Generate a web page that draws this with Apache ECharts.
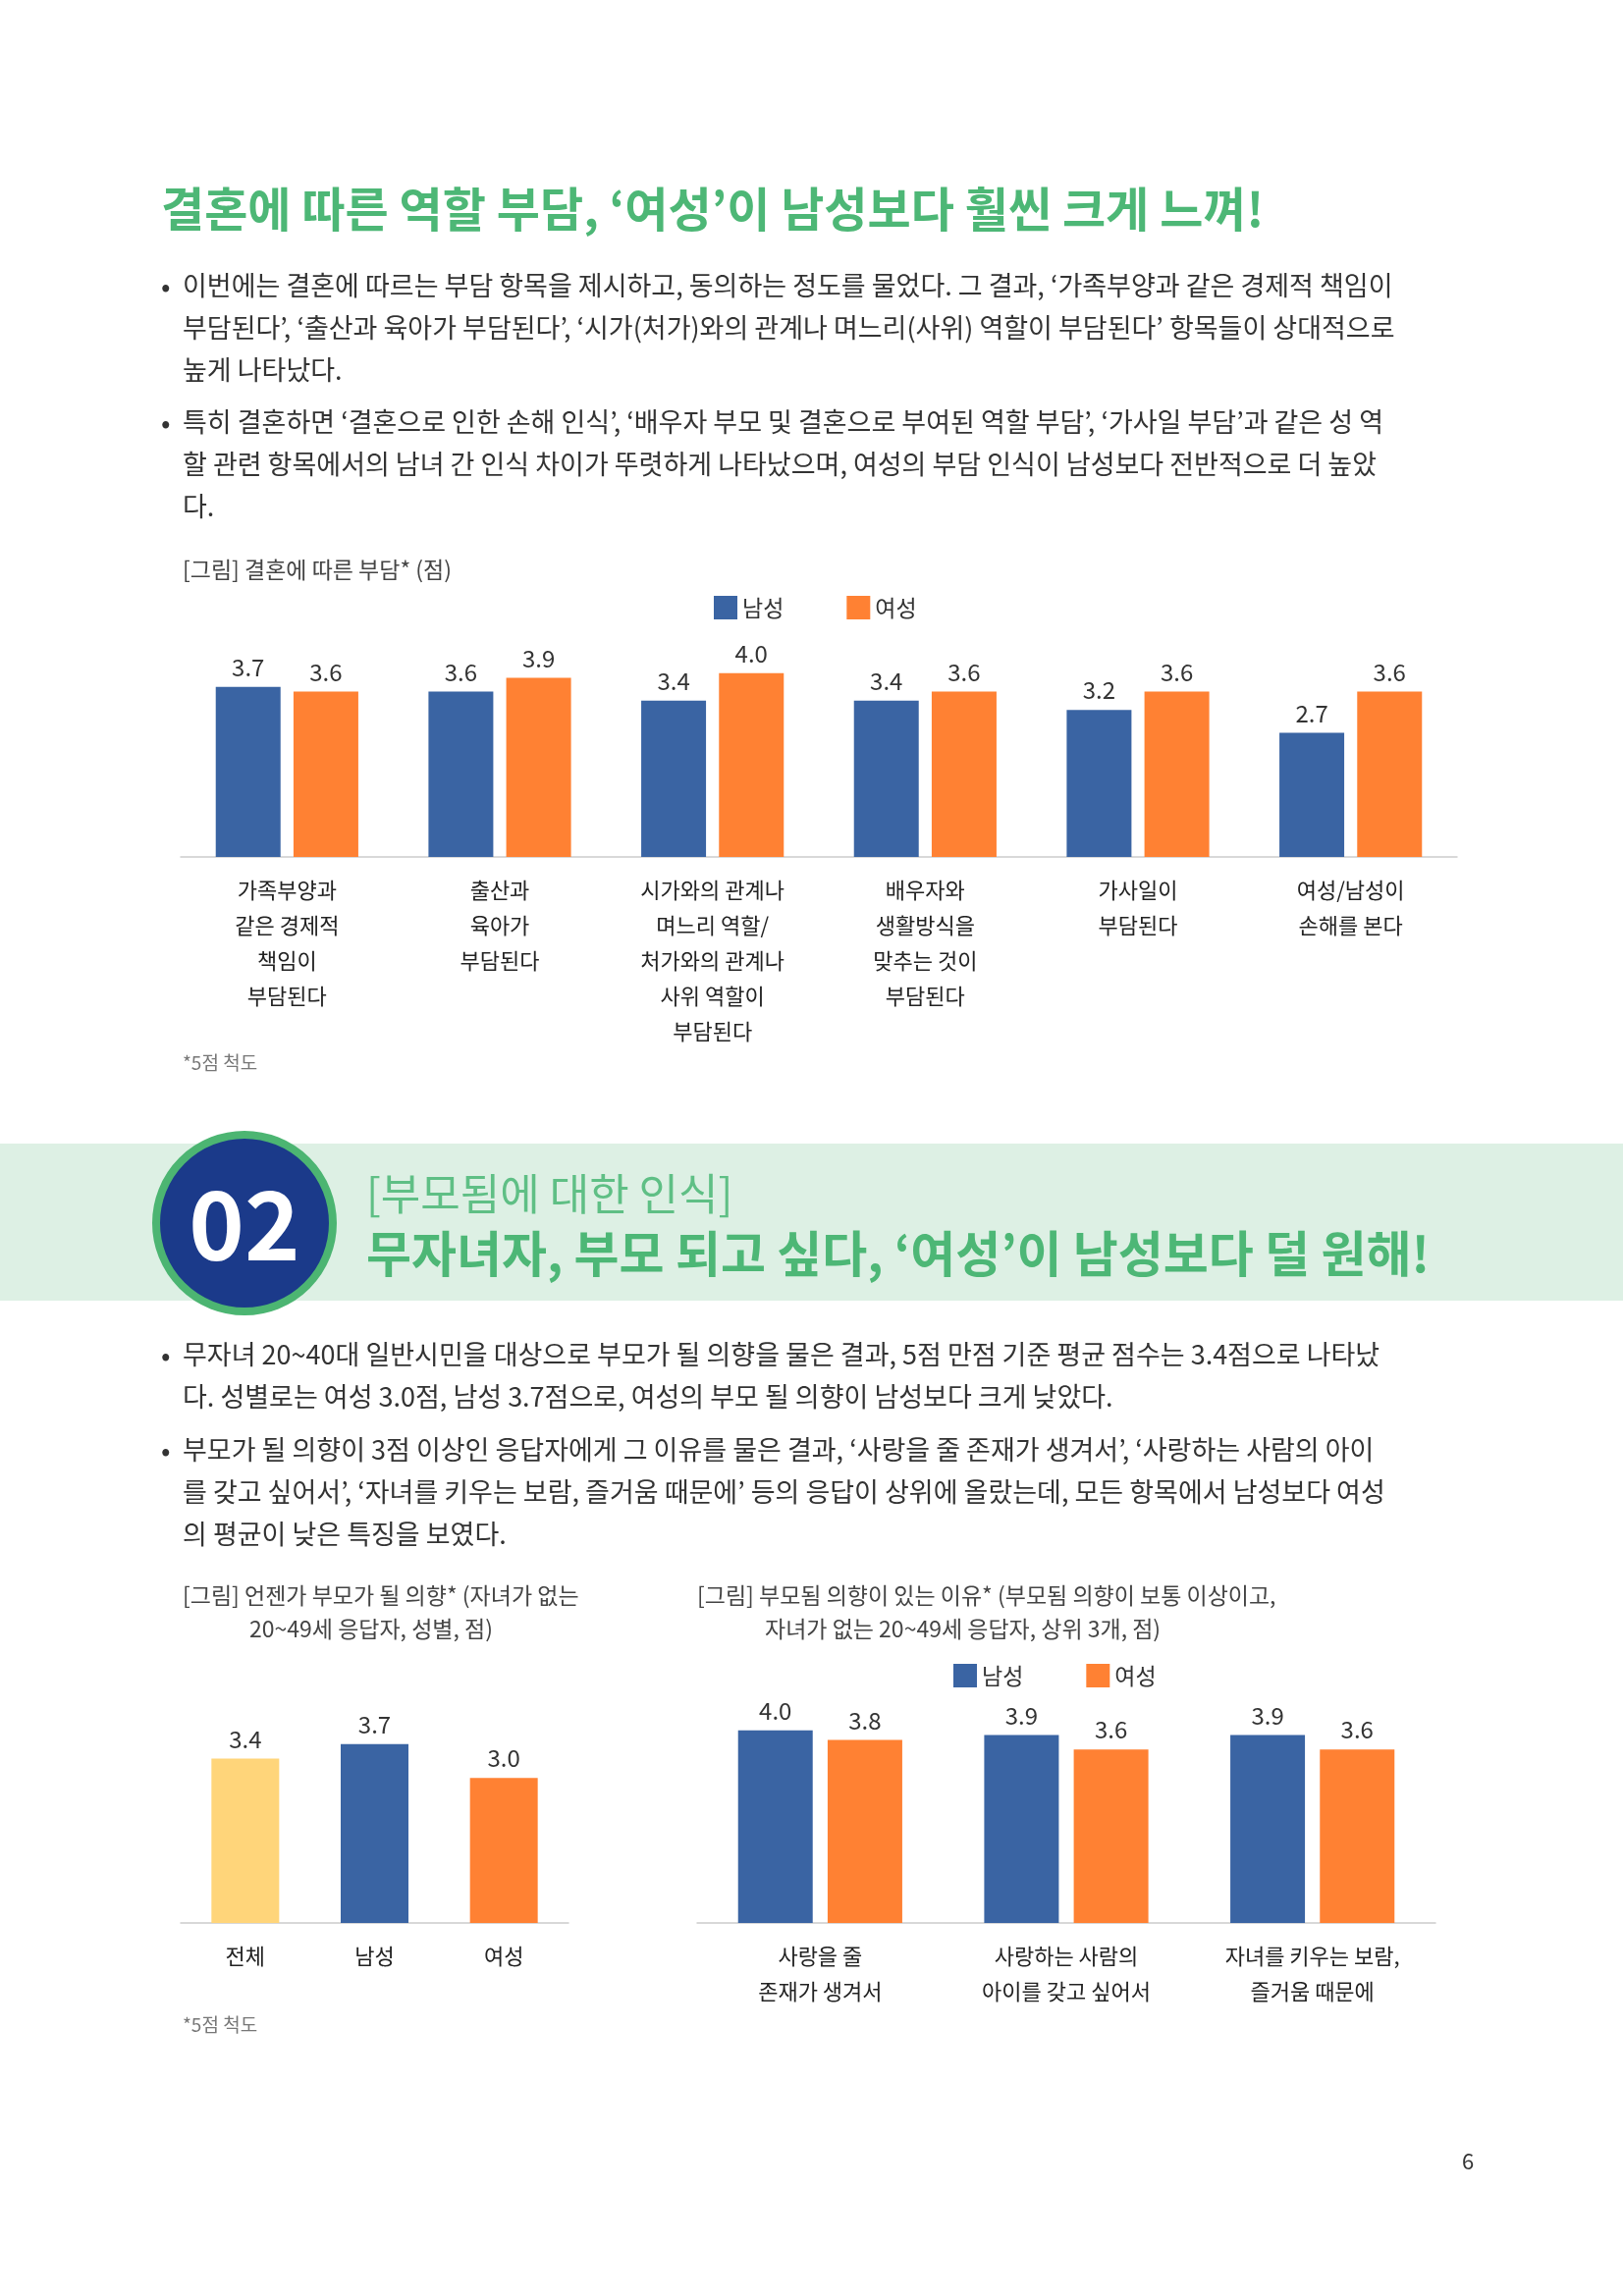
<!DOCTYPE html>
<html><head><meta charset="utf-8">
<script src="https://cdn.jsdelivr.net/npm/echarts@6/dist/echarts.min.js"></script>
<style>html,body{margin:0;padding:0;background:#fff}#c{width:1653px;height:2339px}</style>
</head><body><div id="c"></div>
<script>
const cat1 = ['가족부양과\n같은 경제적\n책임이\n부담된다','출산과\n육아가\n부담된다','시가와의 관계나\n며느리 역할/\n처가와의 관계나\n사위 역할이\n부담된다','배우자와\n생활방식을\n맞추는 것이\n부담된다','가사일이\n부담된다','여성/남성이\n손해를 본다'];
const male1 = [3.7,3.6,3.4,3.4,3.2,2.7];
const female1 = [3.6,3.9,4.0,3.6,3.6,3.6];
const cat2 = ['전체','남성','여성'];
const val2 = [3.4,3.7,3.0];
const cat3 = ['사랑을 줄\n존재가 생겨서','사랑하는 사람의\n아이를 갖고 싶어서','자녀를 키우는 보람,\n즐거움 때문에'];
const male3 = [4.0,3.9,3.9];
const female3 = [3.8,3.6,3.6];

const F = '"Noto Sans CJK KR","Noto Sans",sans-serif';
const BLUE='#3A64A3', ORANGE='#FF8133', YEL='#FFD57A', GREEN='#4DB776';
function T(x,y,text,size,color,weight,align){return {type:'text',x:x,y:y,style:{text:text,font:(weight||'normal')+' '+size+'px '+F,fill:color||'#222',textAlign:align||'left',textVerticalAlign:'middle'}};}
const g=[];
g.push(T(164,213,'결혼에 따른 역할 부담, ‘여성’이 남성보다 훨씬 크게 느껴!',48,GREEN,'bold'));
const b1=[['이번에는 결혼에 따르는 부담 항목을 제시하고, 동의하는 정도를 물었다. 그 결과, ‘가족부양과 같은 경제적 책임이','부담된다’, ‘출산과 육아가 부담된다’, ‘시가(처가)와의 관계나 며느리(사위) 역할이 부담된다’ 항목들이 상대적으로','높게 나타났다.'],['특히 결혼하면 ‘결혼으로 인한 손해 인식’, ‘배우자 부모 및 결혼으로 부여된 역할 부담’, ‘가사일 부담’과 같은 성 역','할 관련 항목에서의 남녀 간 인식 차이가 뚜렷하게 나타났으며, 여성의 부담 인식이 남성보다 전반적으로 더 높았','다.']];
let ys=[291,430];
b1.forEach((p,i)=>{g.push(T(164,ys[i],'•',28,'#333'));p.forEach((l,j)=>g.push(T(186,ys[i]+j*43,l,27,'#333')));});
g.push(T(186,580,'[그림] 결혼에 따른 부담* (점)',23,'#444'));
g.push(T(186,1083,'*5점 척도',19,'#777'));
g.push({type:'rect',shape:{x:0,y:1165,width:1653,height:160},style:{fill:'#DDF0E4'}});
g.push({type:'circle',shape:{cx:249,cy:1246,r:90},style:{fill:'#1B3A8A',stroke:'#4CB572',lineWidth:8}});
g.push(T(249,1248,'02',96,'#fff','bold','center'));
g.push(T(373,1216,'[부모됨에 대한 인식]',44,'#5FBF85'));
g.push(T(373,1277,'무자녀자, 부모 되고 싶다, ‘여성’이 남성보다 덜 원해!',50,GREEN,'bold'));
const b2=[['무자녀 20~40대 일반시민을 대상으로 부모가 될 의향을 물은 결과, 5점 만점 기준 평균 점수는 3.4점으로 나타났','다. 성별로는 여성 3.0점, 남성 3.7점으로, 여성의 부모 될 의향이 남성보다 크게 낮았다.'],['부모가 될 의향이 3점 이상인 응답자에게 그 이유를 물은 결과, ‘사랑을 줄 존재가 생겨서’, ‘사랑하는 사람의 아이','를 갖고 싶어서’, ‘자녀를 키우는 보람, 즐거움 때문에’ 등의 응답이 상위에 올랐는데, 모든 항목에서 남성보다 여성','의 평균이 낮은 특징을 보였다.']];
ys=[1380,1477];
b2.forEach((p,i)=>{g.push(T(164,ys[i],'•',28,'#333'));p.forEach((l,j)=>g.push(T(186,ys[i]+j*43,l,27,'#333')));});
g.push(T(186,1625,'[그림] 언젠가 부모가 될 의향* (자녀가 없는',23,'#444'));
g.push(T(254,1659,'20~49세 응답자, 성별, 점)',23,'#444'));
g.push(T(710,1625,'[그림] 부모됨 의향이 있는 이유* (부모됨 의향이 보통 이상이고,',23,'#444'));
g.push(T(779,1659,'자녀가 없는 20~49세 응답자, 상위 3개, 점)',23,'#444'));
g.push(T(186,2063,'*5점 척도',19,'#777'));
g.push(T(1495,2202,'6',22,'#333','normal','center'));

const lbl={show:true,position:'top',fontSize:24,color:'#333',fontFamily:F,distance:8,formatter:p=>p.value.toFixed(1)};
const xa=(i,data,lh)=>({type:'category',gridIndex:i,data:data,axisTick:{show:false},axisLine:{lineStyle:{color:'#ccc',width:1.5}},axisLabel:{fontSize:22,color:'#222',fontFamily:F,lineHeight:lh,margin:16}});
const ya=(i,max)=>({type:'value',gridIndex:i,min:0,max:max,show:false,splitLine:{show:false}});
const opt={
 animation:false,
 legend:[{data:['남성','여성'],left:722,top:602,itemWidth:24,itemHeight:24,itemGap:64,icon:'rect',textStyle:{fontSize:23,fontFamily:F,color:'#333'}},
  {data:['남성','여성'],left:966,top:1690,itemWidth:24,itemHeight:24,itemGap:64,icon:'rect',textStyle:{fontSize:23,fontFamily:F,color:'#333'}}],
 grid:[{left:184,width:1300,top:667,height:206},{left:184,width:395,top:1762,height:197},{left:710,width:752,top:1743,height:216}],
 xAxis:[xa(0,cat1,36),xa(1,cat2,36),xa(2,cat3,36)],
 yAxis:[ya(0,4.4),ya(1,4.0),ya(2,4.4)],
 series:[
  {name:'남성',type:'bar',xAxisIndex:0,yAxisIndex:0,data:male1,barWidth:66,barGap:'20%',itemStyle:{color:BLUE},label:lbl},
  {name:'여성',type:'bar',xAxisIndex:0,yAxisIndex:0,data:female1,barWidth:66,barGap:'20%',itemStyle:{color:ORANGE},label:lbl},
  {name:'전체',type:'bar',xAxisIndex:1,yAxisIndex:1,barWidth:69,data:val2.map((v,i)=>({value:v,itemStyle:{color:[YEL,BLUE,ORANGE][i]}})),label:lbl},
  {name:'남성',type:'bar',xAxisIndex:2,yAxisIndex:2,data:male3,barWidth:76,barGap:'20%',itemStyle:{color:BLUE},label:lbl},
  {name:'여성',type:'bar',xAxisIndex:2,yAxisIndex:2,data:female3,barWidth:76,barGap:'20%',itemStyle:{color:ORANGE},label:lbl}
 ],
 graphic:g
};
echarts.init(document.getElementById('c')).setOption(opt);
</script></body></html>
